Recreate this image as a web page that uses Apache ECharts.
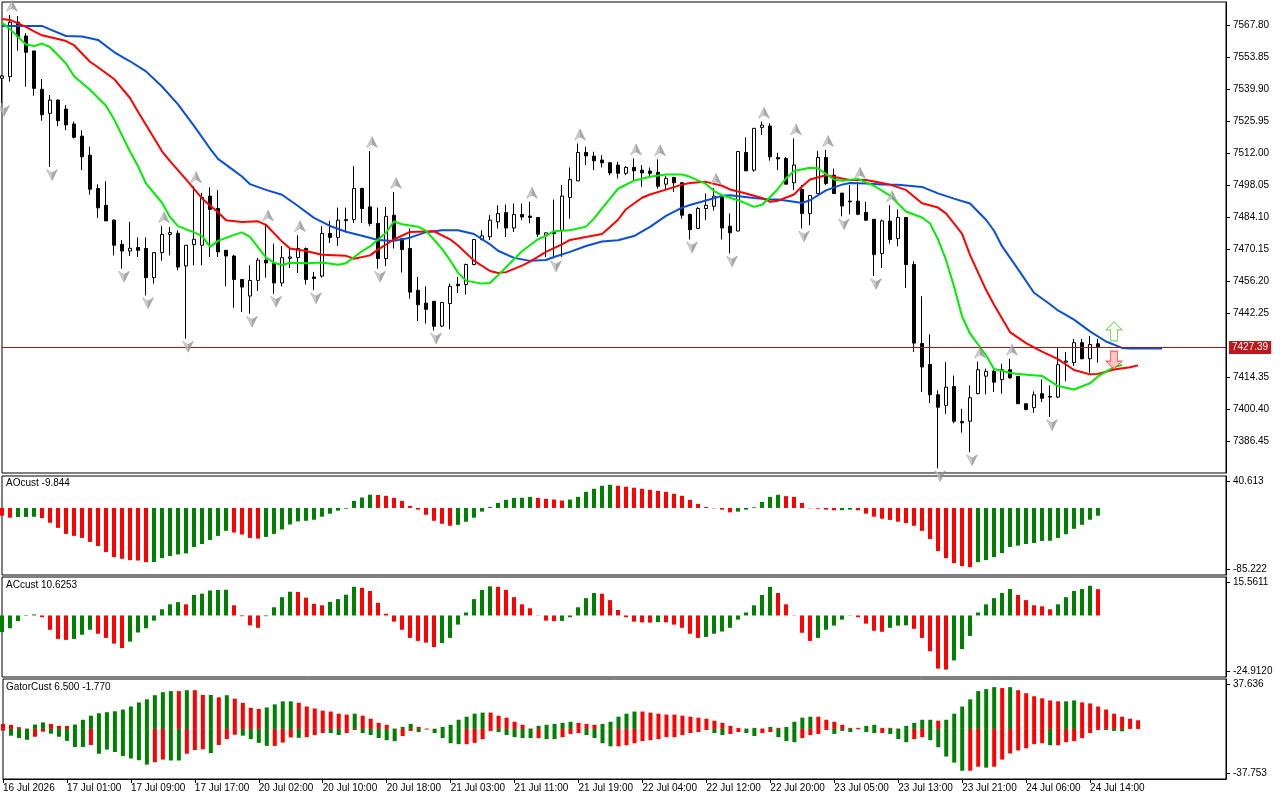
<!DOCTYPE html>
<html><head><meta charset="utf-8">
<script src="https://cdn.jsdelivr.net/npm/echarts@6/dist/echarts.min.js"></script>
<style>html,body{margin:0;padding:0;background:#fff}#c{width:1280px;height:800px}</style>
</head><body><div id="c"></div>
<script>
// ---------- DATA ----------
const timeLabels = ['16 Jul 2026','17 Jul 01:00','17 Jul 09:00','17 Jul 17:00','20 Jul 02:00','20 Jul 10:00','20 Jul 18:00','21 Jul 03:00','21 Jul 11:00','21 Jul 19:00','22 Jul 04:00','22 Jul 12:00','22 Jul 20:00','23 Jul 05:00','23 Jul 13:00','23 Jul 21:00','24 Jul 06:00','24 Jul 14:00'];
const priceTicks = [7386.45,7400.40,7414.35,7442.25,7456.20,7470.15,7484.10,7498.05,7512.00,7525.95,7539.90,7553.85,7567.80];
const priceRange = [7372.75, 7577.80];
const currentPrice = 7427.39;

const opens = [7544.6,7545.3,7569.0,7563.0,7556.5,7539.8,7529.3,7535.1,7531.2,7524.7,7519.4,7511.1,7496.6,7489.3,7482.8,7472.3,7469.4,7470.9,7470.5,7457.8,7468.7,7476.6,7477.1,7462.9,7472.2,7471.9,7493.3,7487.9,7469.7,7467.2,7457.0,7449.8,7456.6,7465.4,7463.9,7455.5,7466.2,7466.5,7470.5,7458.1,7458.5,7477.0,7475.3,7482.6,7483.1,7496.6,7488.6,7481.4,7466.1,7485.0,7474.8,7470.5,7452.3,7446.7,7447.5,7436.7,7446.5,7454.9,7454.8,7463.5,7474.4,7475.6,7482.1,7486.1,7479.4,7485.3,7484.6,7484.0,7476.3,7477.0,7478.4,7492.7,7499.9,7512.3,7510.7,7509.0,7507.8,7506.8,7503.2,7505.8,7504.6,7504.2,7503.6,7498.5,7501.4,7499.1,7485.3,7479.2,7487.9,7488.9,7492.7,7480.2,7478.1,7512.3,7504.6,7523.2,7523.8,7510.1,7509.7,7499.1,7496.2,7485.7,7494.4,7510.1,7502.4,7494.6,7491.1,7491.1,7486.2,7483.2,7468.3,7482.4,7474.8,7484.0,7463.5,7429.1,7420.0,7406.8,7402.2,7410.4,7395.2,7395.3,7407.3,7414.9,7417.0,7413.4,7417.7,7414.8,7402.9,7401.2,7407.3,7406.1,7405.8,7421.0,7420.8,7429.5,7422.5,7429.0];
const highs = [7546.0,7572.2,7571.7,7564.2,7556.5,7544.3,7537.3,7535.4,7532.9,7525.7,7522.0,7514.8,7498.4,7499.8,7483.2,7474.1,7482.1,7475.3,7475.3,7468.7,7480.2,7479.9,7478.4,7471.9,7497.6,7494.7,7497.1,7495.9,7469.7,7467.8,7457.0,7463.2,7466.4,7480.9,7472.6,7471.6,7471.2,7476.3,7470.9,7460.3,7480.2,7482.5,7488.3,7488.3,7506.3,7497.0,7512.9,7488.3,7488.6,7495.1,7474.8,7479.2,7458.1,7454.0,7447.5,7447.0,7455.2,7458.1,7463.9,7474.6,7478.4,7485.0,7489.3,7489.6,7490.1,7490.1,7490.8,7484.2,7477.5,7491.8,7498.1,7505.8,7516.2,7514.8,7512.6,7511.1,7508.2,7508.2,7506.3,7509.7,7506.8,7505.8,7509.3,7502.0,7501.7,7499.5,7485.7,7488.6,7494.4,7496.8,7493.3,7485.7,7512.9,7518.9,7522.9,7525.7,7525.0,7512.1,7510.4,7518.4,7498.1,7493.6,7513.0,7513.4,7505.3,7494.6,7498.1,7499.5,7490.8,7483.2,7483.1,7489.3,7487.5,7484.2,7464.9,7449.7,7433.1,7408.7,7421.0,7415.2,7400.7,7410.9,7421.3,7418.2,7417.7,7420.3,7422.5,7414.8,7403.1,7408.3,7413.5,7410.9,7427.1,7425.4,7431.2,7431.2,7432.4,7431.2];
const lows = [7533.8,7543.1,7556.6,7540.9,7537.0,7526.1,7506.0,7523.8,7522.0,7518.4,7504.6,7494.0,7483.8,7482.5,7467.5,7461.7,7467.2,7466.8,7450.1,7455.2,7465.1,7467.5,7461.0,7431.2,7463.2,7463.2,7466.8,7466.8,7454.0,7444.7,7442.8,7442.1,7452.0,7457.8,7450.8,7454.0,7462.0,7459.8,7454.8,7452.3,7457.8,7472.9,7471.6,7477.7,7481.6,7481.6,7480.2,7461.7,7462.9,7470.5,7460.0,7448.7,7438.9,7437.8,7434.8,7436.3,7435.3,7451.1,7450.4,7463.2,7474.0,7474.1,7479.2,7475.5,7477.7,7482.8,7481.4,7475.5,7466.8,7466.2,7466.8,7483.5,7499.9,7506.8,7504.6,7505.8,7502.4,7501.0,7502.4,7500.2,7497.3,7501.7,7496.6,7496.2,7495.1,7483.5,7474.4,7479.0,7482.8,7487.0,7474.4,7468.3,7478.0,7504.2,7503.9,7519.9,7508.7,7504.6,7498.5,7495.9,7479.2,7480.6,7494.4,7498.1,7494.4,7484.5,7485.4,7485.0,7482.6,7458.5,7462.0,7472.6,7471.5,7453.3,7425.4,7408.0,7403.2,7374.8,7398.5,7394.4,7390.3,7381.8,7407.0,7407.0,7408.0,7407.3,7413.8,7402.9,7400.0,7399.0,7403.6,7397.1,7405.3,7412.7,7419.3,7422.2,7416.4,7420.8];
const closes = [7545.6,7569.0,7562.7,7555.9,7540.2,7528.7,7535.1,7526.1,7524.3,7518.9,7510.4,7496.3,7488.2,7482.5,7471.9,7469.4,7470.6,7469.7,7457.8,7468.7,7476.6,7477.4,7462.4,7471.9,7474.5,7492.7,7487.5,7469.0,7467.2,7457.0,7453.7,7456.6,7465.4,7464.2,7455.5,7466.5,7466.8,7470.5,7457.0,7457.4,7477.0,7475.3,7482.8,7483.1,7496.6,7487.9,7481.4,7466.1,7484.5,7474.4,7470.0,7451.5,7446.0,7444.0,7436.6,7447.0,7454.0,7454.3,7463.5,7474.4,7476.0,7482.8,7485.7,7479.4,7485.3,7484.2,7484.0,7476.7,7477.3,7477.5,7493.3,7500.5,7512.3,7510.8,7508.7,7507.8,7503.4,7503.2,7505.8,7504.3,7503.4,7503.2,7497.6,7501.0,7499.1,7485.0,7478.7,7487.9,7489.3,7493.3,7479.4,7477.3,7512.7,7504.3,7522.8,7524.2,7510.4,7509.5,7498.5,7506.8,7485.7,7493.6,7510.1,7498.8,7494.4,7489.0,7490.8,7485.4,7482.8,7467.8,7482.5,7474.4,7484.0,7463.5,7429.3,7418.9,7406.8,7401.4,7410.1,7395.3,7394.6,7405.5,7417.7,7417.0,7412.3,7417.7,7414.2,7402.9,7400.4,7406.8,7405.3,7405.8,7419.9,7421.5,7429.5,7422.5,7428.7,7427.39];

const fractalUpBars = [1,20,24,33,37,46,49,66,72,79,82,89,95,99,103,107,111,122,126];
const fractalDownBars = [0,6,15,18,23,31,34,39,47,54,69,86,91,100,105,109,117,121,131];

const jawLine = [[0,7567.4],[5,7567.4],[6,7565.9],[8,7563.0],[10,7562.8],[12,7561.3],[14,7556.0],[16,7552.0],[18,7547.6],[20,7541.0],[22,7533.2],[24,7523.9],[26,7514.0],[27,7509.5],[29,7504.4],[30,7501.8],[31,7498.5],[33,7496.0],[35,7493.9],[37,7489.0],[39,7483.8],[41,7480.3],[43,7477.8],[45,7476.0],[47,7474.2],[49,7473.8],[51,7475.2],[53,7477.6],[55,7478.4],[57,7478.4],[59,7476.8],[61,7472.3],[62,7469.5],[64,7466.4],[66,7465.1],[68,7465.5],[69,7466.8],[71,7469.0],[73,7471.6],[75,7473.5],[77,7474.1],[79,7475.9],[81,7479.9],[83,7484.7],[85,7488.3],[86,7489.4],[88,7491.4],[90,7493.4],[91,7493.7],[94,7492.5],[96,7491.8],[97,7491.8],[99,7490.8],[100,7490.3],[101,7491.5],[103,7495.8],[105,7498.3],[106,7499.0],[108,7498.8],[110,7498.3],[112,7498.2],[115,7497.3],[117,7494.5],[119,7492.2],[121,7490.1],[123,7483.0],[124,7478.2],[125,7471.5],[127,7461.5],[129,7451.2],[131,7446.2],[132,7443.5],[134,7439.5],[136,7434.4],[138,7430.0],[140,7427.2],[141,7426.9],[145,7426.9]];
const teethLine = [[0,7570.4],[1,7570.0],[3,7567.0],[4,7565.0],[5,7563.3],[7,7561.7],[8,7560.8],[9,7559.0],[11,7551.8],[12,7549.4],[14,7544.3],[16,7536.0],[17,7530.0],[19,7518.6],[20,7512.8],[21,7508.5],[23,7500.6],[25,7492.3],[27,7486.3],[28,7482.8],[30,7482.0],[32,7482.3],[33,7480.8],[35,7473.5],[36,7470.5],[38,7469.4],[40,7467.8],[43,7467.3],[44,7466.0],[46,7467.5],[47,7470.0],[49,7474.4],[51,7477.7],[52,7477.8],[54,7478.0],[56,7474.5],[57,7471.8],[59,7465.2],[61,7460.7],[62,7459.8],[63,7460.2],[65,7463.0],[66,7464.8],[68,7469.0],[70,7472.3],[71,7474.2],[73,7475.5],[75,7476.8],[76,7479.8],[77,7483.0],[78,7487.6],[80,7492.6],[81,7494.0],[83,7496.1],[85,7498.3],[86,7499.0],[88,7499.5],[90,7497.8],[91,7496.2],[93,7494.4],[95,7492.5],[96,7490.8],[97,7491.3],[99,7494.0],[100,7497.5],[101,7500.5],[103,7502.4],[105,7501.0],[106,7500.3],[108,7500.3],[110,7499.0],[111,7498.3],[113,7496.0],[115,7490.2],[117,7488.3],[118,7485.8],[120,7477.0],[121,7467.7],[123,7452.5],[124,7446.0],[126,7434.1],[128,7429.3],[130,7425.6],[132,7422.3],[134,7417.6],[136,7415.7],[137,7415.9],[139,7417.8],[141,7418.8],[142,7419.6]];
const lipsLine = [[0,7568.8],[1,7566.0],[3,7559.3],[4,7558.6],[5,7559.7],[6,7558.2],[8,7551.0],[9,7545.5],[11,7539.6],[13,7532.6],[14,7526.8],[16,7512.7],[17,7506.3],[18,7498.8],[20,7490.4],[21,7484.2],[22,7480.2],[24,7477.5],[25,7476.0],[26,7471.2],[27,7473.8],[29,7476.4],[30,7477.5],[31,7475.5],[33,7466.5],[34,7464.3],[35,7463.3],[36,7464.3],[38,7464.1],[40,7464.4],[42,7463.4],[43,7464.1],[45,7469.3],[46,7471.4],[48,7477.3],[49,7482.3],[50,7481.0],[52,7480.0],[53,7478.2],[55,7470.3],[56,7465.4],[57,7460.0],[58,7456.5],[60,7455.2],[61,7455.5],[62,7458.8],[64,7465.8],[65,7469.3],[67,7474.5],[68,7476.0],[69,7478.0],[71,7478.4],[73,7480.0],[74,7483.5],[75,7488.0],[76,7492.2],[77,7496.5],[79,7500.0],[81,7501.7],[83,7502.7],[85,7502.7],[86,7501.7],[88,7498.6],[89,7495.5],[90,7493.7],[92,7491.5],[93,7490.1],[94,7488.6],[95,7489.5],[96,7492.8],[97,7496.5],[98,7501.0],[99,7504.2],[101,7505.6],[102,7505.4],[103,7503.0],[104,7500.5],[105,7500.0],[107,7500.8],[108,7499.3],[109,7497.8],[111,7493.5],[113,7486.6],[115,7484.0],[116,7481.4],[117,7474.5],[118,7465.5],[119,7454.0],[120,7441.0],[121,7433.5],[123,7424.0],[124,7418.0],[126,7416.4],[127,7415.8],[130,7415.0],[132,7410.6],[134,7409.1],[136,7411.8],[137,7414.8],[139,7418.9],[140,7419.8]];

const signalUp = [[139, 7434.4]];
const signalDown = [[139, 7421.9]];

const aoValues = [-9.8,-12.4,-11.6,-11.4,-11.2,-12.8,-18.8,-25.3,-33.0,-35.5,-38.1,-43.2,-48.4,-56.1,-62.5,-64.6,-66.3,-66.8,-68.9,-68.7,-63.8,-61.2,-59.1,-57.8,-49.6,-45.8,-40.7,-35.5,-29.1,-31.2,-33.8,-38.1,-38.9,-36.8,-33.0,-27.4,-21.0,-17.1,-16.3,-15.0,-11.1,-7.3,-3.4,-0.9,9.0,13.3,16.9,16.5,15.4,12.8,9.0,2.6,-2.1,-8.6,-16.3,-20.1,-22.7,-21.4,-17.5,-12.4,-4.7,1.3,6.4,10.3,12.8,13.0,14.1,12.8,11.6,10.7,9.4,10.7,14.1,20.5,24.4,28.2,29.5,28.2,27.0,25.7,24.4,23.1,21.8,20.5,18.0,15.4,10.3,5.1,1.3,-0.4,-2.1,-5.6,-4.7,-2.1,0.9,7.7,14.1,16.7,15.0,14.1,6.4,-0.4,-0.9,-2.1,-3.0,-2.8,-2.1,-3.0,-7.3,-11.1,-13.7,-15.2,-17.5,-19.3,-22.7,-29.1,-39.4,-54.8,-63.8,-70.2,-74.0,-75.3,-68.9,-66.3,-62.5,-57.4,-49.6,-47.9,-45.8,-44.5,-41.9,-41.7,-38.1,-33.4,-26.5,-21.4,-15.0,-9.844];
const aoColors = 'RRGGG' + 'RRRRRRRRRRRRRR' + 'GGGGGGGGGG' + 'RRRR' + 'GGGGGGGGGGGGGG' + 'RRRRRRRRRR' + 'GGGGGGGGGG' + 'RRRR' + 'GGGGGG' + 'RRRRRRRRRRRRRRR' + 'GGGGGG' + 'RRRRRRR' + 'GG' + 'RRRRRRRRRRRRRRR' + 'GGGGGGGGGGGGGGGG';
const acValues = [-6.7,-5.2,-2.3,0.2,0.4,-0.7,-5.8,-9.5,-9.9,-9.5,-7.8,-5.8,-7.4,-9.1,-11.4,-13.2,-10.6,-6.9,-5.2,-2.1,2.5,4.5,5.4,4.5,8.3,8.8,10.1,10.3,10.4,4.1,-0.3,-4.0,-5.0,-0.3,3.3,7.4,9.6,9.5,7.2,4.7,4.1,5.5,6.6,8.4,11.6,11.2,9.9,5.1,0.7,-2.5,-5.8,-9.1,-10.3,-11.0,-12.8,-11.2,-9.1,-3.7,1.2,6.6,10.3,11.8,11.6,10.3,7.4,4.5,2.9,-0.1,-2.1,-2.3,-2.2,-0.7,3.3,7.0,9.1,8.8,6.2,2.2,-0.7,-2.5,-2.8,-2.9,-2.7,-2.8,-3.7,-5.0,-7.4,-9.1,-8.7,-7.4,-6.5,-5.0,-1.7,1.2,4.1,8.3,11.6,9.1,4.5,-0.1,-7.0,-10.3,-9.1,-5.8,-4.1,-1.7,-0.1,-0.7,-3.3,-6.2,-6.6,-5.0,-4.1,-4.0,-5.4,-9.1,-14.5,-21.5,-21.9,-18.2,-13.6,-8.3,1.2,4.5,7.0,9.1,10.7,8.3,6.2,4.1,3.7,2.5,4.5,7.4,9.9,10.7,12.0,10.6253];
const acColors = 'GGGGG' + 'RRRR' + 'GGG' + 'RRRR' + 'GGGGGGG' + 'R' + 'GGGGG' + 'RRRR' + 'GGGG' + 'RRRR' + 'GGGG' + 'RRRRRRRRRR' + 'GGGGGGG' + 'RRRRRRRR' + 'GGGGG' + 'RRRRRRR' + 'G' + 'RRRRR' + 'GGGGGGGGG' + 'RRRRR' + 'GGGGG' + 'RRRR' + 'GGG' + 'RRRRR' + 'GGGGGGGG' + 'RRRRR' + 'GGGGG' + 'R';
const gatorUpper = [3.8,3.1,1.3,0.3,3.3,4.9,3.8,2.3,2.3,3.3,6.9,10.0,11.8,12.6,13.3,14.6,16.9,20.0,22.3,25.4,27.7,28.5,28.5,29.2,29.2,25.6,25.6,23.8,25.4,22.8,19.7,15.9,15.1,16.2,18.5,20.8,20.8,19.7,16.9,15.4,13.8,13.1,11.5,10.8,11.5,10.0,7.7,4.6,3.1,0.3,1.5,3.8,1.5,0.3,0.2,1.5,3.1,6.9,9.2,11.5,12.3,12.3,10.0,8.5,5.4,3.1,0.3,2.3,3.1,3.8,4.6,5.4,4.6,3.8,3.1,3.8,5.4,9.2,11.5,13.1,13.1,12.3,11.5,10.8,10.8,10.0,9.2,8.5,7.7,6.2,4.6,2.3,0.8,0.3,0.8,0.3,1.5,0.8,1.5,5.4,8.5,9.2,9.2,6.9,5.4,3.1,0.8,0.8,2.3,3.1,0.8,0.8,0.3,2.3,4.6,6.9,6.9,6.2,6.9,11.5,16.9,22.3,28.5,30.0,31.5,30.8,31.5,29.2,26.9,24.6,23.1,21.5,20.8,20.8,21.5,20.0,19.2,16.9,14.6,11.5,9.2,7.7,6.5];
const gatorUpperColors = 'RRRRGGRRRG' + 'GGGGGGGGGG' + 'GGRGRRGRGR' + 'RRRGGGGRRR' + 'RRRRGRRRRR' + 'GGRRRGGGGG' + 'GRRRRRRGGG' + 'GGRRRGGGGG' + 'RRRRRRRRRR' + 'RRRRGRGRGG' + 'GGRRRRRRGG' + 'RRRGGGGRGG' + 'GGGGGRGRRR' + 'RRRGGRRRRR' + 'RRR';
const gatorLower = [-1.3,-5.1,-6.9,-8.2,-5.9,-2.1,-3.6,-5.9,-9.0,-13.6,-13.6,-12.1,-18.7,-15.6,-17.4,-20.5,-22.3,-23.6,-26.9,-25.1,-23.1,-23.8,-23.8,-18.7,-15.9,-15.4,-18.2,-12.1,-7.7,-4.4,-5.1,-7.7,-10.5,-12.8,-12.8,-10.3,-6.4,-6.7,-6.2,-4.6,-3.1,-3.1,-4.6,-3.1,-0.8,-3.1,-4.6,-6.9,-8.5,-9.2,-5.4,-1.5,-2.3,-0.5,-3.1,-6.9,-10.8,-11.5,-11.5,-10.5,-7.7,-1.5,-2.3,-4.6,-6.2,-6.9,-6.9,-6.9,-7.7,-7.7,-6.2,-3.8,-3.1,-4.6,-6.9,-10.8,-13.1,-13.1,-12.3,-10.8,-9.2,-8.5,-7.7,-6.2,-6.2,-4.6,-3.1,-2.3,-0.8,-3.1,-4.6,-3.8,-2.3,-3.1,-5.4,-3.1,-2.3,-6.2,-9.2,-10.0,-6.9,-4.6,-3.8,-0.8,-3.8,-1.5,-2.3,-0.3,-2.3,-3.1,-3.1,-3.8,-7.7,-10.0,-7.7,-6.2,-8.5,-13.8,-20.8,-25.4,-31.5,-31.5,-28.5,-29.2,-28.5,-23.1,-18.5,-16.2,-14.6,-11.5,-10.8,-12.3,-12.3,-10.0,-9.2,-6.9,-3.1,-0.8,-0.8,-1.5,-1.77];
const gatorLowerColors = 'RGGGRRGGGG' + 'GRGGGGGGGR' + 'RGGRRRGRRR' + 'GGGGRRRGRR' + 'RGGRRGGGGG' + 'RRGRGGGGRR' + 'RRGGGGGRGG' + 'RRRGGGGRRR' + 'RRRRRRRRRG' + 'GRRGGRRGGG' + 'RRRRGGGRGG' + 'RGGGRRGGGG' + 'GRRGRRRRRR' + 'RGRRRRRRGG' + 'G';

const aoRange = [-85.222, 40.613], aoRangeLabels = ['-85.222', '40.613'];
const acRange = [-24.9120, 15.5611], acRangeLabels = ['-24.9120', '15.5611'];
const gatorRange = [-37.753, 37.636], gatorRangeLabels = ['-37.753', '37.636'];
const paneTitles = ['AOcust -9.844', 'ACcust 10.6253', 'GatorCust 6.500 -1.770'];

// ---------- CHART ----------
const FONT = 'Liberation Sans';
const GREEN = '#008000', RED = '#ff0000';
const N = 154;
const cats = Array.from({length: N}, (_, i) => String(i));
const tickShown = (i) => i % 8 === 0 && i / 8 < timeLabels.length;

const grids = [
  {left: 2, top: 2, width: 1224, height: 471},
  {left: 2, top: 476, width: 1224, height: 99},
  {left: 2, top: 577, width: 1224, height: 100},
  {left: 2, top: 679, width: 1224, height: 100}
].map(g => Object.assign(g, {show: true, borderColor: '#000', borderWidth: 1, backgroundColor: 'transparent', containLabel: false}));

const xAxes = [0,1,2,3].map(gi => ({
  type: 'category', gridIndex: gi, data: cats, boundaryGap: false,
  show: gi === 3, position: 'bottom',
  axisLine: {show: true, onZero: false, lineStyle: {color: '#000'}},
  axisTick: {show: true, length: 4, interval: tickShown, lineStyle: {color: '#000'}},
  axisLabel: {show: true, interval: tickShown, align: 'left', margin: 4, fontSize: 10, fontFamily: FONT, color: '#000',
    formatter: (v) => { const n = Number(v); return n % 8 === 0 ? (timeLabels[n / 8] || '') : ''; }},
  splitLine: {show: false}
}));

function subAxis(gi, range, labels, h) {
  const k = (range[1] - range[0]) / h * 5.5;
  const vals = [range[0] + k, range[1] - k];
  return {type: 'value', gridIndex: gi, position: 'right', min: range[0], max: range[1], splitLine: {show: false},
    axisLine: {show: true, onZero: false, lineStyle: {color: '#000'}},
    axisTick: {show: true, length: 4, customValues: vals, lineStyle: {color: '#000'}},
    axisLabel: {show: true, customValues: vals, margin: 7, fontSize: 10, fontFamily: FONT, color: '#000',
      formatter: (v) => v > 0 ? labels[1] : labels[0]}};
}

const yAxes = [
  {type: 'value', gridIndex: 0, position: 'right', min: priceRange[0], max: priceRange[1], scale: true, splitLine: {show: false},
    axisLine: {show: true, onZero: false, lineStyle: {color: '#000'}},
    axisTick: {show: true, length: 4, customValues: priceTicks, lineStyle: {color: '#000'}},
    axisLabel: {show: true, customValues: priceTicks, margin: 7, fontSize: 10, fontFamily: FONT, color: '#000',
      formatter: (v) => v.toFixed(2)}},
  subAxis(1, aoRange, aoRangeLabels, 99),
  subAxis(2, acRange, acRangeLabels, 100),
  subAxis(3, gatorRange, gatorRangeLabels, 100)
];

const fractalGrad = new echarts.graphic.LinearGradient(0, 0, 1, 0, [
  {offset: 0, color: '#dcdcdc'}, {offset: 0.5, color: '#b4b4b4'}, {offset: 0.51, color: '#8e8e8e'}, {offset: 1, color: '#9c9c9c'}]);
const colored = (vals, cols) => vals.map((v, i) => ({value: v, itemStyle: {color: cols[i] === 'G' ? GREEN : RED}}));

const series = [
  {type: 'candlestick', name: 'price', xAxisIndex: 0, yAxisIndex: 0, barWidth: 4, z: 3,
    data: opens.map((o, i) => [o, closes[i], lows[i], highs[i]]),
    itemStyle: {color: '#ffffff', color0: '#000000', borderColor: '#000000', borderColor0: '#000000', borderWidth: 1}},
  {type: 'line', name: 'jaw', xAxisIndex: 0, yAxisIndex: 0, data: jawLine, symbol: 'none', z: 4,
    lineStyle: {color: '#0a4fd8', width: 2}},
  {type: 'line', name: 'teeth', xAxisIndex: 0, yAxisIndex: 0, data: teethLine, symbol: 'none', z: 4,
    lineStyle: {color: '#ff0000', width: 2}},
  {type: 'line', name: 'lips', xAxisIndex: 0, yAxisIndex: 0, data: lipsLine, symbol: 'none', z: 4,
    lineStyle: {color: '#00ee00', width: 2}},
  {type: 'scatter', name: 'fractalUp', xAxisIndex: 0, yAxisIndex: 0, z: 5,
    data: fractalUpBars.map(i => [i, highs[i]]),
    symbol: 'path://M6,0 L12,12 L6,8.5 L0,12 Z', symbolSize: [11, 11], symbolOffset: [2, -9],
    itemStyle: {color: fractalGrad, borderColor: '#8a8a8a', borderWidth: 0.5}},
  {type: 'scatter', name: 'fractalDown', xAxisIndex: 0, yAxisIndex: 0, z: 5,
    data: fractalDownBars.map(i => [i, lows[i]]),
    symbol: 'path://M0,0 L6,3.5 L12,0 L6,12 Z', symbolSize: [11, 11], symbolOffset: [2, 8],
    itemStyle: {color: fractalGrad, borderColor: '#8a8a8a', borderWidth: 0.5}},
  {type: 'scatter', name: 'signalUp', xAxisIndex: 0, yAxisIndex: 0, z: 6, data: signalUp,
    symbol: 'path://M8,0 L16,8 L11.5,8 L11.5,19 L4.5,19 L4.5,8 L0,8 Z', symbolSize: [16, 19],
    itemStyle: {color: '#ffffff', borderColor: '#5cc83a', borderWidth: 1}},
  {type: 'scatter', name: 'signalDown', xAxisIndex: 0, yAxisIndex: 0, z: 6, data: signalDown,
    symbol: 'path://M4.5,0 L11.5,0 L11.5,10 L16,10 L8,18 L0,10 L4.5,10 Z', symbolSize: [16, 18],
    itemStyle: {color: '#ffb8b8', borderColor: '#ff3c3c', borderWidth: 1}},
  {type: 'line', name: 'bid', xAxisIndex: 0, yAxisIndex: 0, data: [], clip: false, z: 2,
    markLine: {silent: true, symbol: ['none', 'none'], animation: false,
      lineStyle: {color: '#b01010', width: 1, type: 'solid', opacity: 1},
      label: {show: true, position: 'end', distance: 3, formatter: () => currentPrice.toFixed(2),
        backgroundColor: '#c0171d', color: '#ffffff', padding: [2, 3, 1, 3], fontSize: 10, fontFamily: FONT},
      data: [{yAxis: currentPrice}]}},
  {type: 'bar', name: 'AO', xAxisIndex: 1, yAxisIndex: 1, barWidth: 4, data: colored(aoValues, aoColors)},
  {type: 'bar', name: 'AC', xAxisIndex: 2, yAxisIndex: 2, barWidth: 4, data: colored(acValues, acColors)},
  {type: 'bar', name: 'GatorUp', xAxisIndex: 3, yAxisIndex: 3, barWidth: 4, barGap: '-100%', data: colored(gatorUpper, gatorUpperColors)},
  {type: 'bar', name: 'GatorDown', xAxisIndex: 3, yAxisIndex: 3, barWidth: 4, barGap: '-100%', data: colored(gatorLower, gatorLowerColors)}
];

const titleTops = [478, 580, 682];
const graphic = paneTitles.map((t, k) => ({type: 'text', left: 6, top: titleTops[k], z: 10,
  style: {text: t, font: '10px "' + FONT + '"', fill: '#000'}}));

const chart = echarts.init(document.getElementById('c'), null, {width: 1280, height: 800});
chart.setOption({
  animation: false,
  backgroundColor: '#ffffff',
  textStyle: {fontFamily: FONT},
  grid: grids, xAxis: xAxes, yAxis: yAxes, series: series, graphic: graphic
});
</script></body></html>
